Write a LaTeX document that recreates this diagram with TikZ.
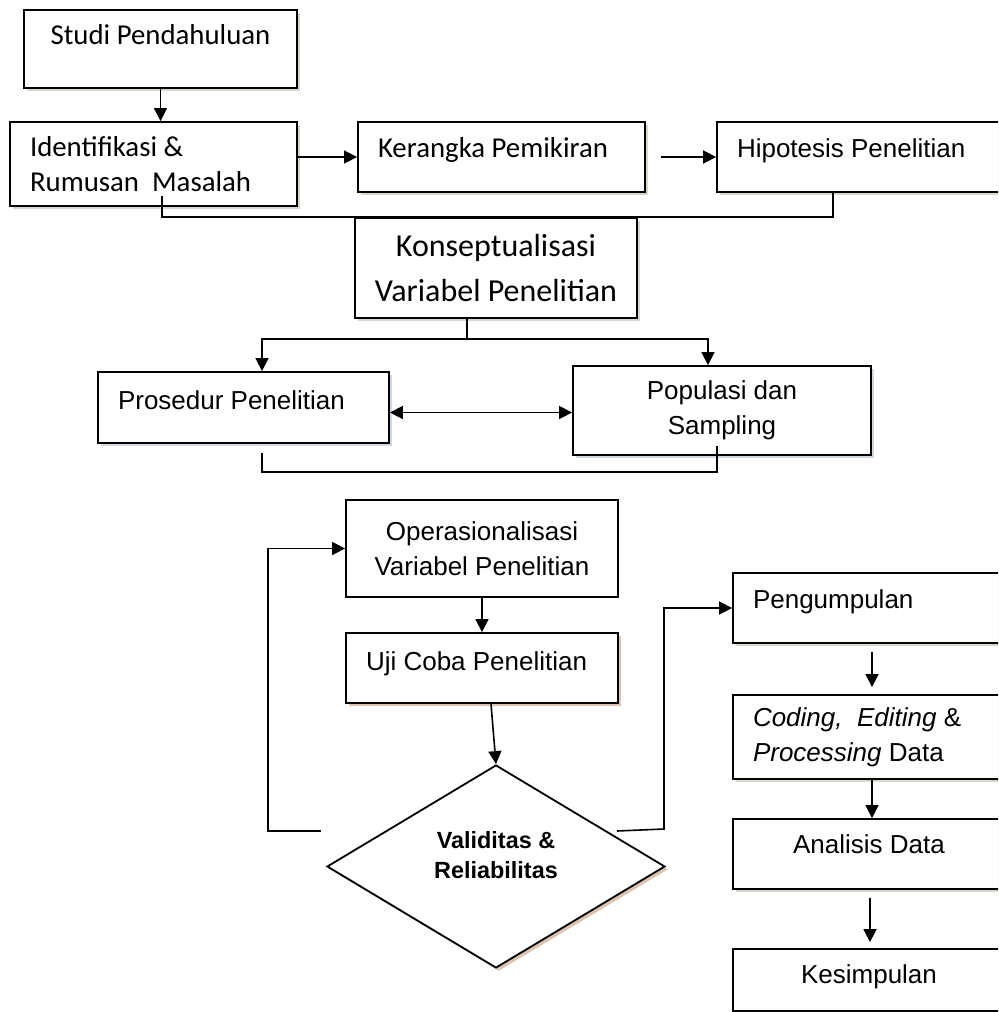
\documentclass[tikz,border=0pt]{standalone}
\usepackage{fontspec}
\setmainfont{Liberation Sans}
\newfontfamily\calibrifont{Carlito}
\usetikzlibrary{arrows.meta,positioning,calc,shapes.geometric,shadows}
\definecolor{shadeG}{HTML}{D3DACB}
\definecolor{shadeB}{HTML}{D2D8E2}
\definecolor{shadeR}{HTML}{DCC3B2}

\begin{document}
\begin{tikzpicture}[x=0.5pt,y=-0.5pt,
  box/.style={draw,line width=0.9pt,fill=white,inner xsep=10pt,inner ysep=3pt},
  backing/.style={drop shadow={shadow xshift=1.5pt,shadow yshift=-1.5pt,fill=#1,opacity=1}},
  cbox/.style={box,font=\calibrifont\fontsize{14.4}{17.5}\selectfont},
  abox/.style={box,font=\fontsize{13}{17.5}\selectfont},
  lift/.style={text depth=#1},
  arrow/.style={-{Triangle[length=6.5pt,width=6.5pt]},line width=0.8pt},
  both/.style={{Triangle[length=6.5pt,width=6.5pt]}-{Triangle[length=6.5pt,width=6.5pt]},line width=0.8pt},
  link/.style={line width=0.8pt}
]
\useasboundingbox (0,0) rectangle (998,1012);
\clip (0,0) rectangle (998,1012);
\node[cbox,backing=shadeG,align=center,minimum width=136.5pt,minimum height=39pt,lift=14pt] (studi) at (160.5,49) {Studi Pendahuluan};
\node[cbox,backing=shadeG,align=flush left,text width=123.5pt,minimum height=42pt] (ident) at (153.5,164)
  {Identifikasi \&\\Rumusan\ \ Masalah};
\node[cbox,backing=shadeG,align=flush left,text width=123.5pt,minimum height=35pt,lift=9.5pt] (kerangka) at (501.5,157) {Kerangka Pemikiran};
\node[abox,backing=shadeG,align=flush left,text width=124pt,minimum height=35pt,lift=9.3pt] (hipotesis) at (861,157) {Hipotesis Penelitian};
\node[box,backing=shadeG,font=\calibrifont\fontsize{16}{22.5}\selectfont,align=center,minimum width=136pt,minimum height=50pt] (konsep) at (496,268)
  {Konseptualisasi\\Variabel Penelitian};
\node[abox,backing=shadeB,align=flush left,text width=125.5pt,minimum height=35.5pt,lift=7.8pt] (prosedur) at (243.5,407.5) {Prosedur Penelitian};
\node[abox,backing=shadeB,align=center,minimum width=149pt,minimum height=44.5pt] (populasi) at (722,410.5)
  {Populasi dan\\Sampling};
\node[abox,align=center,minimum width=136pt,minimum height=48.5pt] (operasi) at (482,548.5)
  {Operasionalisasi\\Variabel Penelitian};
\node[abox,backing=shadeR,align=flush left,text width=116pt,minimum height=35pt,lift=7.3pt] (ujicoba) at (482,668) {Uji Coba Penelitian};
\node[draw,line width=0.9pt,fill=white,diamond,aspect=1.665,inner sep=0pt,minimum width=169pt,minimum height=101.5pt,backing=shadeR,
  font=\bfseries\fontsize{11.7}{15}\selectfont,align=center,lift=11pt] (valid) at (496,866.5) {Validitas \&\\Reliabilitas};
\node[abox,backing=shadeG,align=flush left,text width=116pt,minimum height=35pt,lift=9.3pt] (kumpul) at (869,608) {Pengumpulan};
\node[abox,backing=shadeG,align=flush left,text width=116pt,minimum height=42pt] (coding) at (869,737)
  {\textit{Coding,\ \ Editing} \&\\\textit{Processing} Data};
\node[abox,backing=shadeG,align=center,minimum width=136pt,minimum height=35pt,lift=10.3pt] (analisis) at (869,854) {Analisis Data};
\node[abox,align=center,minimum width=136pt,minimum height=31pt,lift=6.3pt] (simpul) at (869,980) {Kesimpulan};
\draw[arrow] (studi.south) -- (studi.south |- ident.north);
\draw[arrow] (ident.east |- kerangka) -- (kerangka.west);
\draw[arrow] ([xshift=7.5pt]kerangka.east) -- (hipotesis.west);
\draw[link] ([shift={(8.5,-11)}]ident.south) |- (konsep.north) -| ([xshift=-14pt]hipotesis.south);
\coordinate (fork) at ([shift={(-29,20)}]konsep.south);
\draw[link] ([xshift=-14.5pt]konsep.south) -- (fork);
\draw[arrow] (fork) -| ([xshift=9.25pt]prosedur.north);
\draw[arrow] (fork) -| ([xshift=-7pt]populasi.north);
\draw[both] ([yshift=-2.5pt]prosedur.east) -- ([yshift=-2.5pt]prosedur.east -| populasi.west);
\draw[link] ([shift={(18.5,9)}]prosedur.south) |- ([shift={(-5,16)}]populasi.south) -- ([shift={(-5,-10)}]populasi.south);
\draw[arrow] (operasi) -- (ujicoba);
\draw[arrow] ([xshift=4.5pt]ujicoba.south) -- (valid.north);
\coordinate (backL) at (321,831);
\coordinate (backR) at (617,831);
\draw[arrow] (backL) -- ++(-53,0) |- (operasi.west);
\draw[arrow] (backR) -- ++(47,-2) |- (kumpul.west);
\draw[arrow,shorten <=4pt,shorten >=3.5pt] ([xshift=1.5pt]kumpul.south) -- ([xshift=1.5pt]coding.north);
\draw[arrow,shorten <=-1pt] ([xshift=1.5pt]coding.south) -- ([xshift=1.5pt]analisis.north);
\draw[arrow,shorten <=4pt,shorten >=3pt] ([xshift=0.5pt]analisis.south) -- ([xshift=0.5pt]simpul.north);
\end{tikzpicture}
\end{document}
